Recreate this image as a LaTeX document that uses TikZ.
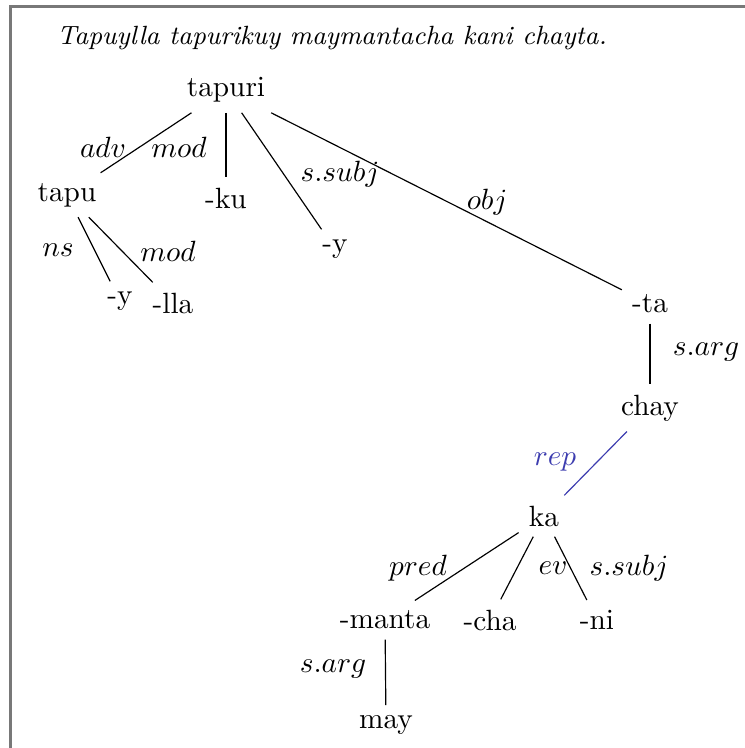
\documentclass[tikz,border=0pt]{standalone}
\begin{document}
\begin{tikzpicture}[x=0.3413pt, y=-0.3413pt,
  wd/.style={inner sep=3.33pt},
  lbl/.style={inner sep=1pt},
  edge/.style={draw=black, line width=0.4pt},
  repedge/.style={draw=repblue, line width=0.4pt}]
\definecolor{repblue}{RGB}{60,60,175}
\definecolor{framegray}{RGB}{120,120,120}
\useasboundingbox (0,0) rectangle (744,748);
\draw[framegray, line width=0.7pt] (10.5,760) -- (10.5,6.5) -- (760,6.5);
\node[lbl] (title) at (332,38) {\small\itshape Tapuylla tapurikuy maymantacha kani chayta.};
% words
\node[wd] (tapuri) at (226,90) {tapuri};
\node[wd] (tapu) at (67,195) {tapu};
\node[wd] (ku) at (226,198) {-ku};
\node[wd] (y1) at (335,249) {-y};
\node[wd] (y2) at (120,301) {-y};
\node[wd] (lla) at (173,303) {-lla};
\node[wd] (ta) at (650,304) {-ta};
\node[wd] (chay) at (650,408) {chay};
\node[wd] (ka) at (544,516) {ka};
\node[wd] (manta) at (385,620) {-manta};
\node[wd] (cha) at (490,620) {-cha};
\node[wd] (ni) at (597,620) {-ni};
\node[wd] (may) at (386,725) {may};
% edges
\draw[edge] (tapuri) -- (tapu);
\draw[edge] (tapuri) -- (ku);
\draw[edge] (tapuri) -- (y1);
\draw[edge] (tapuri) -- (ta);
\draw[edge] (tapu) -- (y2);
\draw[edge] (tapu) -- (lla);
\draw[edge] (ta) -- (chay);
\draw[repedge] (chay) -- (ka);
\draw[edge] (ka) -- (manta);
\draw[edge] (ka) -- (cha);
\draw[edge] (ka) -- (ni);
\draw[edge] (manta) -- (may);
% labels
\node[lbl] (ladv) at (103,147) {$adv$};
\node[lbl] (lmod) at (179,147) {$mod$};
\node[lbl] (lssubj) at (340,174) {$s.subj$};
\node[lbl] (lobj) at (487,202) {$obj$};
\node[lbl] (lns) at (58,250) {$ns$};
\node[lbl] (lmod2) at (168,251) {$mod$};
\node[lbl] (lsarg) at (706,352) {$s.arg$};
\node[lbl, text=repblue] (lrep) at (555,462) {$rep$};
\node[lbl] (lpred) at (418,568) {$pred$};
\node[lbl] (lev) at (553,568) {$ev$};
\node[lbl] (lssubj2) at (629,568) {$s.subj$};
\node[lbl] (lsarg2) at (333,669) {$s.arg$};
\end{tikzpicture}
\end{document}
